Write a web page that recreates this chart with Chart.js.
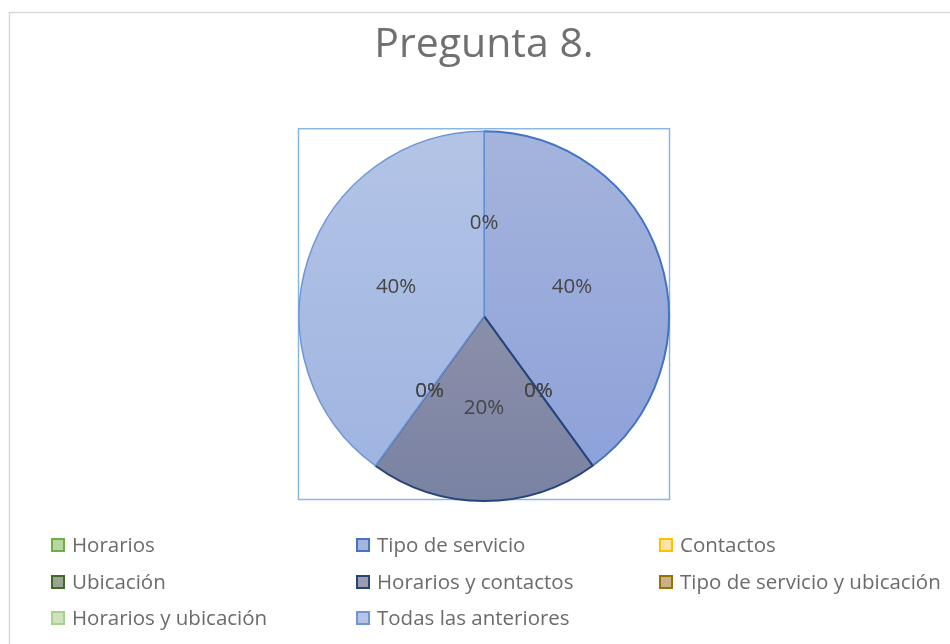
<!DOCTYPE html>
<html lang="es">
<head>
<meta charset="utf-8">
<title>Pregunta 8.</title>
<script src="https://cdn.jsdelivr.net/npm/chart.js@4/dist/chart.umd.min.js"></script>
<style>
    html, body { margin: 0; padding: 0; background: #fff; }
    #contenedor { width: 950px; height: 644px; position: relative; }
</style>
</head>
<body>
<div id="contenedor">
    <canvas id="graficoPregunta"></canvas>
</div>
<script>
// Respuestas de la pregunta 8 (porcentaje)
const categorias = [
    'Horarios',
    'Tipo de servicio',
    'Contactos',
    'Ubicación',
    'Horarios y contactos',
    'Tipo de servicio y ubicación',
    'Horarios y ubicación',
    'Todas las anteriores'
];
const porcentajes = [0, 40, 0, 0, 20, 0, 0, 40];

// Colores de relleno (arriba / abajo del degradado) y de borde
const rellenoArriba = ['#b6d99e', '#a5b4dc', '#ffe3a6', '#97a78f', '#9b9caf', '#c8b088', '#cbe4bb', '#b3c4e6'];
const rellenoAbajo  = ['#a2cc85', '#8ba0da', '#ffd980', '#87967e', '#7a82a3', '#b89e72', '#bcdca7', '#9db3e0'];
const bordes        = ['#70ad47', '#4472c4', '#ffc000', '#43682b', '#264478', '#997300', '#a9d18e', '#6f95d8'];
const grosorBorde   = [2, 2, 2, 2, 2, 2, 2, 1.5];

// Posición de la leyenda: 3 columnas x 3 filas
const columnasLeyenda = [51, 356, 659];
const filasLeyenda = [545, 582, 618];

const fuente = '"Open Sans", "Noto Sans", sans-serif';

function degradado(ctx, i) {
    const area = ctx.chart.chartArea;
    if (!area) return rellenoArriba[i];
    const g = ctx.chart.ctx.createLinearGradient(0, area.top, 0, area.bottom);
    g.addColorStop(0, rellenoArriba[i]);
    g.addColorStop(1, rellenoAbajo[i]);
    return g;
}

// Marco exterior gris y marco azul del área del gráfico
const marcos = {
    id: 'marcos',
    beforeDraw(chart) {
        const c = chart.ctx;
        c.save();
        c.strokeStyle = '#d9d9d9';
        c.lineWidth = 1.5;
        c.beginPath();
        c.moveTo(chart.width + 2, 12.5);
        c.lineTo(9.5, 12.5);
        c.lineTo(9.5, chart.height + 2);
        c.stroke();
        const a = chart.chartArea;
        c.strokeStyle = '#8ab6e6';
        c.lineWidth = 1.5;
        c.strokeRect(a.left + 0.5, a.top - 1.5, a.right - a.left - 1, a.bottom - a.top - 1);
        c.restore();
    }
};

// Porcentajes dentro de cada sector
const etiquetas = {
    id: 'etiquetas',
    afterDatasetsDraw(chart) {
        const c = chart.ctx;
        const meta = chart.getDatasetMeta(0);
        const datos = chart.data.datasets[0].data;
        const total = datos.reduce((a, b) => a + b, 0);
        c.save();
        c.font = '20.5px ' + fuente;
        c.fillStyle = '#454545';
        c.textAlign = 'center';
        c.textBaseline = 'middle';
        meta.data.forEach((arco, i) => {
            const p = arco.getCenterPoint();
            c.fillText(Math.round(datos[i] / total * 100) + '%', p.x, p.y);
        });
        c.restore();
    }
};

// Leyenda en rejilla
const leyenda = {
    id: 'leyenda',
    afterDraw(chart) {
        const c = chart.ctx;
        c.save();
        c.font = '20.5px ' + fuente;
        c.textBaseline = 'middle';
        c.textAlign = 'left';
        categorias.forEach((nombre, i) => {
            const x = columnasLeyenda[i % 3];
            const y = filasLeyenda[Math.floor(i / 3)];
            c.fillStyle = rellenoArriba[i];
            c.fillRect(x + 1, y - 6, 12, 12);
            c.strokeStyle = bordes[i];
            c.lineWidth = 2;
            c.strokeRect(x + 1, y - 6, 12, 12);
            c.fillStyle = '#6b6b6b';
            c.fillText(nombre, x + 21, y + 1);
        });
        c.restore();
    }
};

new Chart(document.getElementById('graficoPregunta'), {
    type: 'pie',
    data: {
        labels: categorias,
        datasets: [{
            data: porcentajes,
            backgroundColor: ctx => degradado(ctx, ctx.dataIndex),
            borderColor: bordes,
            borderWidth: grosorBorde
        }]
    },
    options: {
        responsive: true,
        maintainAspectRatio: false,
        animation: false,
        layout: {
            padding: { left: 298, right: 280, top: 0, bottom: 142 }
        },
        plugins: {
            legend: { display: false },
            tooltip: { enabled: false },
            title: {
                display: true,
                text: 'Pregunta 8.',
                color: '#707070',
                font: { family: fuente, size: 41, weight: 'normal' },
                padding: { top: 21, bottom: 60 }
            }
        }
    },
    plugins: [marcos, etiquetas, leyenda]
});
</script>
</body>
</html>
